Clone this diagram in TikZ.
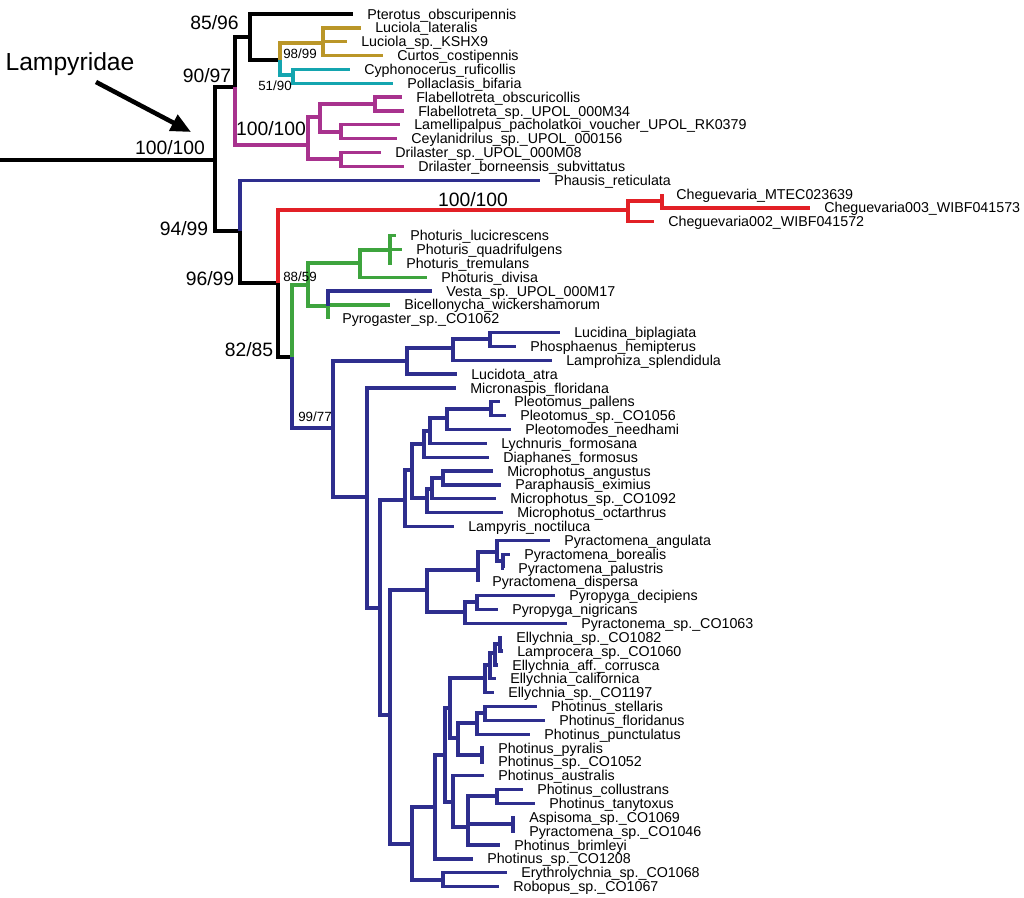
\documentclass[tikz,border=0pt]{standalone}
\usepackage{fontspec}
\setmainfont{Liberation Sans}
\usetikzlibrary{arrows.meta}
\definecolor{luc}{RGB}{186,150,40}
\definecolor{cyph}{RGB}{20,165,175}
\definecolor{dril}{RGB}{168,50,142}
\definecolor{lamp}{RGB}{46,46,142}
\definecolor{cheg}{RGB}{226,32,38}
\definecolor{phot}{RGB}{62,164,62}

\begin{document}
\begin{tikzpicture}[x=0.75pt,y=-0.75pt,
  br/.style={line width=2.5pt},
  lbl/.style={anchor=west,inner xsep=10.5pt,inner ysep=0pt,text height=7.6pt,text depth=0pt,font=\fontsize{10.7}{12}\selectfont},
  sup/.style={inner sep=0pt,font=\fontsize{14.5}{16}\selectfont},
  sml/.style={inner sep=0pt,font=\fontsize{10}{12}\selectfont}]
\useasboundingbox (0,0) rectangle (1024,897);

%\draw[red] (0,0) grid[step=50] (1024,897);

% branch points
\coordinate (root) at (0,160);
\coordinate (nR) at (215,160);
\coordinate (n9097) at (235,87);
\coordinate (n8596) at (250,37);
\coordinate (nLC) at (280,60);
\coordinate (nLuc) at (323,43);
\coordinate (nCyp) at (293,75);
\coordinate (nDril) at (308,145);
\coordinate (nFlbL) at (320,117);
\coordinate (nFlab) at (375,104);
\coordinate (nLamel) at (341,132);
\coordinate (nDrila) at (341,159);
\coordinate (n9499) at (240,231);
\coordinate (n9699) at (278,283);
\coordinate (nCheg) at (628,210);
\coordinate (nChegB) at (662,201);
\coordinate (n8285) at (292,357);
\coordinate (nGreen) at (308,285);
\coordinate (nPhot) at (360,263);
\coordinate (nPhotB) at (390,250);
\coordinate (nVesta) at (328,306);
\coordinate (n9977) at (333,428);
\coordinate (nLucd) at (407,361);
\coordinate (nLucdB) at (453,348);
\coordinate (nLucdC) at (490,339);
\coordinate (nMicr) at (367,497);
\coordinate (n380) at (380,608);
\coordinate (n405) at (405,500);
\coordinate (n412) at (412,470);
\coordinate (n424) at (424,444);
\coordinate (n430) at (430,431);
\coordinate (n447) at (447,418);
\coordinate (nPleo) at (491,409);
\coordinate (nMcC) at (427,498);
\coordinate (nMcB) at (432,489);
\coordinate (nMcA) at (443,478);
\coordinate (n390) at (390,715);
\coordinate (nPyrc) at (427,590);
\coordinate (nPyrcA) at (478,570);
\coordinate (nPyrcB) at (497,552);
\coordinate (nPyrcC) at (503,561);
\coordinate (nPyro) at (465,612);
\coordinate (nPyroB) at (477,602);
\coordinate (n412b) at (412,844);
\coordinate (nEryth) at (443,880);
\coordinate (n435) at (435,807);
\coordinate (n445) at (445,755);
\coordinate (n450) at (450,708);
\coordinate (nEll) at (485,678);
\coordinate (nEllB) at (490,665);
\coordinate (nEllC) at (495,653);
\coordinate (nEllD) at (500,644);
\coordinate (nPhA) at (458,738);
\coordinate (nPhB) at (477,723);
\coordinate (nPhC) at (485,713);
\coordinate (nPhPyr) at (482,755);
\coordinate (n453) at (453,802);
\coordinate (n468) at (468,827);
\coordinate (nPhCT) at (497,796);
\coordinate (nAsp) at (513,824);

% taxa
\node[lbl] (pterotus) at (353,14) {Pterotus\_obscuripennis};
\node[lbl] (lucLat) at (361,27.9) {Luciola\_lateralis};
\node[lbl] (lucSp) at (347,41.7) {Luciola\_sp.\_KSHX9};
\node[lbl] (curtos) at (383,55.6) {Curtos\_costipennis};
\node[lbl] (cyphR) at (350,69.4) {Cyphonocerus\_ruficollis};
\node[lbl] (polla) at (393,83.3) {Pollaclasis\_bifaria};
\node[lbl] (flabO) at (402,97.1) {Flabellotreta\_obscuricollis};
\node[lbl] (flabS) at (404,111) {Flabellotreta\_sp.\_UPOL\_000M34};
\node[lbl] (lamel) at (400,124.8) {Lamellipalpus\_pacholatkoi\_voucher\_UPOL\_RK0379};
\node[lbl] (ceyl) at (397,138.7) {Ceylanidrilus\_sp.\_UPOL\_000156};
\node[lbl] (drilS) at (381,152.5) {Drilaster\_sp.\_UPOL\_000M08};
\node[lbl] (drilB) at (404,166.4) {Drilaster\_borneensis\_subvittatus};
\node[lbl] (phausis) at (540,180.2) {Phausis\_reticulata};
\node[lbl] (chegM) at (662,194.1) {Cheguevaria\_MTEC023639};
\node[lbl] (cheg3) at (810,207.9) {Cheguevaria003\_WIBF041573};
\node[lbl] (cheg2) at (654,221.8) {Cheguevaria002\_WIBF041572};
\node[lbl] (photL) at (396,235.6) {Photuris\_lucicrescens};
\node[lbl] (photQ) at (402,249.5) {Photuris\_quadrifulgens};
\node[lbl] (photT) at (392,263.3) {Photuris\_tremulans};
\node[lbl] (photD) at (427,277.2) {Photuris\_divisa};
\node[lbl] (vesta) at (432,291) {Vesta\_sp.\_UPOL\_000M17};
\node[lbl] (bicel) at (390,304.9) {Bicellonycha\_wickershamorum};
\node[lbl] (pyrog) at (328,318.7) {Pyrogaster\_sp.\_CO1062};
\node[lbl] (lucid) at (560,332.6) {Lucidina\_biplagiata};
\node[lbl] (phosp) at (516,346.4) {Phosphaenus\_hemipterus};
\node[lbl] (lampr) at (552,360.3) {Lamprohiza\_splendidula};
\node[lbl] (lucdt) at (457,374.1) {Lucidota\_atra};
\node[lbl] (micrn) at (456,388) {Micronaspis\_floridana};
\node[lbl] (pleoP) at (500,401.8) {Pleotomus\_pallens};
\node[lbl] (pleoS) at (506,415.7) {Pleotomus\_sp.\_CO1056};
\node[lbl] (pleod) at (511,429.5) {Pleotomodes\_needhami};
\node[lbl] (lychn) at (487,443.4) {Lychnuris\_formosana};
\node[lbl] (diaph) at (489,457.2) {Diaphanes\_formosus};
\node[lbl] (micrA) at (493,471.1) {Microphotus\_angustus};
\node[lbl] (parap) at (501,484.9) {Paraphausis\_eximius};
\node[lbl] (micrS) at (496,498.8) {Microphotus\_sp.\_CO1092};
\node[lbl] (micrO) at (503,512.6) {Microphotus\_octarthrus};
\node[lbl] (lmprs) at (454,526.5) {Lampyris\_noctiluca};
\node[lbl] (pyrcA) at (550,540.3) {Pyractomena\_angulata};
\node[lbl] (pyrcB) at (510,554.2) {Pyractomena\_borealis};
\node[lbl] (pyrcP) at (504,568) {Pyractomena\_palustris};
\node[lbl] (pyrcD) at (478,581.9) {Pyractomena\_dispersa};
\node[lbl] (pyroD) at (555,595.7) {Pyropyga\_decipiens};
\node[lbl] (pyroN) at (498,609.6) {Pyropyga\_nigricans};
\node[lbl] (pyrnm) at (567,623.4) {Pyractonema\_sp.\_CO1063};
\node[lbl] (ellA) at (502,637.3) {Ellychnia\_sp.\_CO1082};
\node[lbl] (lmpcr) at (503,651.1) {Lamprocera\_sp.\_CO1060};
\node[lbl] (ellB) at (498,665) {Ellychnia\_aff.\_corrusca};
\node[lbl] (ellC) at (496,678.8) {Ellychnia\_californica};
\node[lbl] (ellD) at (494,692.7) {Ellychnia\_sp.\_CO1197};
\node[lbl] (phStel) at (537,706.5) {Photinus\_stellaris};
\node[lbl] (phFlor) at (545,720.4) {Photinus\_floridanus};
\node[lbl] (phPunc) at (530,734.2) {Photinus\_punctulatus};
\node[lbl] (phPyr) at (484,748.1) {Photinus\_pyralis};
\node[lbl] (phSpA) at (484,761.9) {Photinus\_sp.\_CO1052};
\node[lbl] (phAust) at (484,775.8) {Photinus\_australis};
\node[lbl] (phColl) at (523,789.6) {Photinus\_collustrans};
\node[lbl] (phTany) at (535,803.5) {Photinus\_tanytoxus};
\node[lbl] (aspis) at (515,817.3) {Aspisoma\_sp.\_CO1069};
\node[lbl] (pyrcS) at (515,831.2) {Pyractomena\_sp.\_CO1046};
\node[lbl] (phBrim) at (500,845) {Photinus\_brimleyi};
\node[lbl] (phSpB) at (473,858.9) {Photinus\_sp.\_CO1208};
\node[lbl] (eryth) at (507,872.7) {Erythrolychnia\_sp.\_CO1068};
\node[lbl] (robop) at (499,886.6) {Robopus\_sp.\_CO1067};

% backbone
\draw[br] (root) -- (nR);
\draw[br] (nR) |- (n9097);
\draw[br] (nR) |- (n9499);
\draw[br] (n9097) |- (n8596);
\draw[br] (n8596) |- (pterotus.west);
\draw[br] (n8596) |- (nLC);
\draw[br] (n9499) |- (n9699);
\draw[br] (n9699) |- (n8285);

\draw[br,color=luc] (nLC) |- (nLuc);
\draw[br,color=luc] (nLuc) |- (lucLat.west);
\draw[br,color=luc] (nLuc) |- (lucSp.west);
\draw[br,color=luc] (nLuc) |- (curtos.west);

\draw[br,color=cyph] (nLC) |- (nCyp);
\draw[br,color=cyph] (nCyp) |- (cyphR.west);
\draw[br,color=cyph] (nCyp) |- (polla.west);

\draw[br,color=dril] (n9097) |- (nDril);
\draw[br,color=dril] (nDril) |- (nFlbL);
\draw[br,color=dril] (nDril) |- (nDrila);
\draw[br,color=dril] (nFlbL) |- (nFlab);
\draw[br,color=dril] (nFlbL) |- (nLamel);
\draw[br,color=dril] (nFlab) |- (flabO.west);
\draw[br,color=dril] (nFlab) |- (flabS.west);
\draw[br,color=dril] (nLamel) |- (lamel.west);
\draw[br,color=dril] (nLamel) |- (ceyl.west);
\draw[br,color=dril] (nDrila) |- (drilS.west);
\draw[br,color=dril] (nDrila) |- (drilB.west);

\draw[br,color=lamp] (n9499) |- (phausis.west);

\draw[br,color=cheg] (n9699) |- (nCheg);
\draw[br,color=cheg] (nCheg) |- (nChegB);
\draw[br,color=cheg] (nCheg) |- (cheg2.west);
\draw[br,color=cheg] (nChegB) |- (chegM.west);
\draw[br,color=cheg] (nChegB) |- (cheg3.west);

\draw[br,color=phot] (n8285) |- (nGreen);
\draw[br,color=phot] (nGreen) |- (nPhot);
\draw[br,color=phot] (nGreen) |- (nVesta);
\draw[br,color=phot] (nPhot) |- (nPhotB);
\draw[br,color=phot] (nPhot) |- (photD.west);
\draw[br,color=phot] (nPhotB) |- (photL.west);
\draw[br,color=phot] (nPhotB) |- (photQ.west);
\draw[br,color=phot] (nPhotB) |- (photT.west);
\draw[br,color=phot] (nVesta) |- (bicel.west);
\draw[br,color=phot] (nVesta) |- (pyrog.west);
\draw[br,color=lamp] (nVesta) |- (vesta.west);

% Lampyrinae and allies
\draw[br,color=lamp] (n8285) |- (n9977);
\draw[br,color=lamp] (n9977) |- (nLucd);
\draw[br,color=lamp] (n9977) |- (nMicr);
\draw[br,color=lamp] (nLucd) |- (nLucdB);
\draw[br,color=lamp] (nLucd) |- (lucdt.west);
\draw[br,color=lamp] (nLucdB) |- (nLucdC);
\draw[br,color=lamp] (nLucdB) |- (lampr.west);
\draw[br,color=lamp] (nLucdC) |- (lucid.west);
\draw[br,color=lamp] (nLucdC) |- (phosp.west);
\draw[br,color=lamp] (nMicr) |- (micrn.west);
\draw[br,color=lamp] (nMicr) |- (n380);
\draw[br,color=lamp] (n380) |- (n405);
\draw[br,color=lamp] (n380) |- (n390);
\draw[br,color=lamp] (n405) |- (n412);
\draw[br,color=lamp] (n405) |- (lmprs.west);
\draw[br,color=lamp] (n412) |- (n424);
\draw[br,color=lamp] (n412) |- (nMcC);
\draw[br,color=lamp] (n424) |- (n430);
\draw[br,color=lamp] (n424) |- (diaph.west);
\draw[br,color=lamp] (n430) |- (n447);
\draw[br,color=lamp] (n430) |- (lychn.west);
\draw[br,color=lamp] (n447) |- (nPleo);
\draw[br,color=lamp] (n447) |- (pleod.west);
\draw[br,color=lamp] (nPleo) |- (pleoP.west);
\draw[br,color=lamp] (nPleo) |- (pleoS.west);
\draw[br,color=lamp] (nMcC) |- (nMcB);
\draw[br,color=lamp] (nMcC) |- (micrO.west);
\draw[br,color=lamp] (nMcB) |- (nMcA);
\draw[br,color=lamp] (nMcB) |- (micrS.west);
\draw[br,color=lamp] (nMcA) |- (micrA.west);
\draw[br,color=lamp] (nMcA) |- (parap.west);

\draw[br,color=lamp] (n390) |- (nPyrc);
\draw[br,color=lamp] (n390) |- (n412b);
\draw[br,color=lamp] (nPyrc) |- (nPyrcA);
\draw[br,color=lamp] (nPyrc) |- (nPyro);
\draw[br,color=lamp] (nPyrcA) |- (nPyrcB);
\draw[br,color=lamp] (nPyrcA) |- (pyrcD.west);
\draw[br,color=lamp] (nPyrcB) |- (pyrcA.west);
\draw[br,color=lamp] (nPyrcB) |- (nPyrcC);
\draw[br,color=lamp] (nPyrcC) |- (pyrcB.west);
\draw[br,color=lamp] (nPyrcC) |- (pyrcP.west);
\draw[br,color=lamp] (nPyro) |- (nPyroB);
\draw[br,color=lamp] (nPyro) |- (pyrnm.west);
\draw[br,color=lamp] (nPyroB) |- (pyroD.west);
\draw[br,color=lamp] (nPyroB) |- (pyroN.west);

\draw[br,color=lamp] (n412b) |- (n435);
\draw[br,color=lamp] (n412b) |- (nEryth);
\draw[br,color=lamp] (nEryth) |- (eryth.west);
\draw[br,color=lamp] (nEryth) |- (robop.west);
\draw[br,color=lamp] (n435) |- (n445);
\draw[br,color=lamp] (n435) |- (phSpB.west);
\draw[br,color=lamp] (n445) |- (n450);
\draw[br,color=lamp] (n445) |- (n453);
\draw[br,color=lamp] (n450) |- (nEll);
\draw[br,color=lamp] (n450) |- (nPhA);
\draw[br,color=lamp] (nEll) |- (nEllB);
\draw[br,color=lamp] (nEll) |- (ellD.west);
\draw[br,color=lamp] (nEllB) |- (nEllC);
\draw[br,color=lamp] (nEllB) |- (ellC.west);
\draw[br,color=lamp] (nEllC) |- (nEllD);
\draw[br,color=lamp] (nEllC) |- (ellB.west);
\draw[br,color=lamp] (nEllD) |- (ellA.west);
\draw[br,color=lamp] (nEllD) |- (lmpcr.west);
\draw[br,color=lamp] (nPhA) |- (nPhB);
\draw[br,color=lamp] (nPhA) |- (nPhPyr);
\draw[br,color=lamp] (nPhB) |- (nPhC);
\draw[br,color=lamp] (nPhB) |- (phPunc.west);
\draw[br,color=lamp] (nPhC) |- (phStel.west);
\draw[br,color=lamp] (nPhC) |- (phFlor.west);
\draw[br,color=lamp] (nPhPyr) |- (phPyr.west);
\draw[br,color=lamp] (nPhPyr) |- (phSpA.west);
\draw[br,color=lamp] (n453) |- (phAust.west);
\draw[br,color=lamp] (n453) |- (n468);
\draw[br,color=lamp] (n468) |- (nPhCT);
\draw[br,color=lamp] (n468) |- (nAsp);
\draw[br,color=lamp] (n468) |- (phBrim.west);
\draw[br,color=lamp] (nPhCT) |- (phColl.west);
\draw[br,color=lamp] (nPhCT) |- (phTany.west);
\draw[br,color=lamp] (nAsp) |- (aspis.west);
\draw[br,color=lamp] (nAsp) |- (pyrcS.west);

% support values
\node[sup] (s8596) at (214.5,22.5) {85/96};
\node[sup] (s9097) at (207,76) {90/97};
\node[sup] (sRoot) at (170,148) {100/100};
\node[sml] (s9899) at (300,54) {98/99};
\node[sml] (s5190) at (275,86) {51/90};
\node[sup] (sDril) at (271,129) {100/100};
\node[sup] (s9499) at (184,229) {94/99};
\node[sup] (s9699) at (210,279) {96/99};
\node[sml] (s8859) at (300,277) {88/59};
\node[sup] (s8285) at (249,350) {82/85};
\node[sml] (s9977) at (315,417) {99/77};
\node[sup] (sCheg) at (473,200) {100/100};

% family label
\node[font=\fontsize{18.5}{20}\selectfont] (lampyridae) at (70,64) {Lampyridae};
\coordinate (arrS) at (96,82);
\coordinate (arrE) at (191,132);
\draw[-{Triangle[length=15pt,width=13pt]},line width=3.4pt] (arrS) -- (arrE);
\end{tikzpicture}
\end{document}
